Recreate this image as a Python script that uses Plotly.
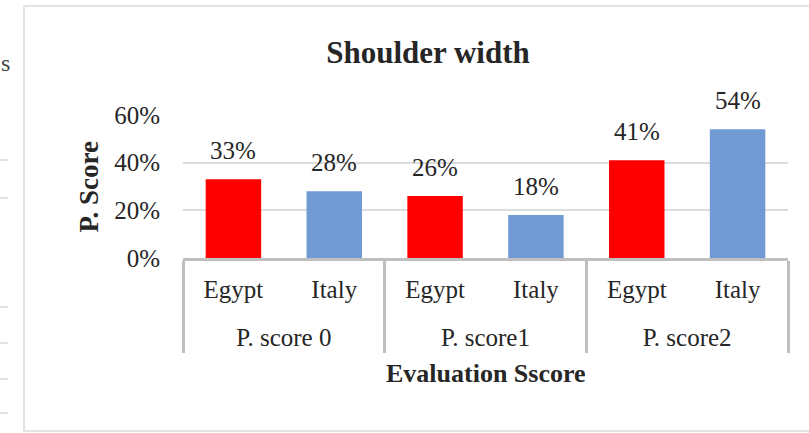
import plotly.graph_objects as go

groups = ["P. score 0", "P. score 0", "P. score1", "P. score1", "P. score2", "P. score2"]
countries = ["Egypt", "Italy", "Egypt", "Italy", "Egypt", "Italy"]
values = [0.33, 0.28, 0.26, 0.18, 0.41, 0.54]
labels = ["33%", "28%", "26%", "18%", "41%", "54%"]
bar_colors = ["#ff0000", "#7199d4", "#ff0000", "#7199d4", "#ff0000", "#7199d4"]
y_ticks = [0, 0.2, 0.4, 0.6]
y_ticktext = ["0%", "20%", "40%", "60%"]

SERIF = "Liberation Serif, Times New Roman, serif"
TXT = "#262626"
FS = 25

# a small blank second line under each country name leaves room for the group row
country_text = [c + "<br><sup><span style='font-size:40px'>\u00a0</span></sup>" for c in countries]

fig = go.Figure()
fig.add_trace(go.Bar(
    x=[groups, country_text], y=values,
    marker=dict(color=bar_colors, line=dict(width=0)),
    hoverinfo="skip",
))

for i, (v, t) in enumerate(zip(values, labels)):
    fig.add_annotation(x=i, y=v, xref="x", yref="y", text=t, showarrow=False,
                       yanchor="middle", yshift=29,
                       font=dict(family=SERIF, size=FS, color=TXT))

# axis titles
fig.add_annotation(x=-0.157, y=0.5, xref="paper", yref="paper", text="<b>P. Score</b>",
                   textangle=-90, showarrow=False, xanchor="center", yanchor="middle",
                   font=dict(family=SERIF, size=27, color=TXT))
fig.add_annotation(x=0.5, y=-0.81, xref="paper", yref="paper", text="<b>Evaluation Sscore</b>",
                   showarrow=False, xanchor="center", yanchor="middle",
                   font=dict(family=SERIF, size=26, color=TXT))

W, H = 809, 433
L, R, T, B = 183, 21, 115, 175
pw, ph = W - L - R, H - T - B

def px(x):
    return (x - L) / pw

def py(y):
    return (H - B - y) / ph

shapes = [dict(type="rect", xref="paper", yref="paper", x0=px(24), x1=px(812), y0=py(6), y1=py(431),
               line=dict(color="#e3e3e3", width=2), layer="below")]
for yy in [160, 198, 307, 343, 379, 413]:
    shapes.append(dict(type="line", xref="paper", yref="paper", x0=px(0), x1=px(8), y0=py(yy), y1=py(yy),
                       line=dict(color="#d8d8d8", width=1.5)))
fig.add_annotation(x=px(0), y=py(63), xref="paper", yref="paper", text="s", showarrow=False,
                   xanchor="left", yanchor="middle", borderpad=0,
                   font=dict(family=SERIF, size=24, color="#444"))

fig.update_layout(
    width=W, height=H,
    margin=dict(l=L, r=R, t=T, b=B, pad=0),
    paper_bgcolor="white", plot_bgcolor="white",
    showlegend=False,
    bargap=0.45,
    shapes=shapes,
    title=dict(text="<b>Shoulder width</b>", x=428 / W, xref="container", xanchor="center",
               y=1 - 52 / H, yref="container", yanchor="middle",
               font=dict(family=SERIF, size=31, color=TXT)),
    xaxis=dict(type="multicategory", showline=True, linecolor="#bfbfbf", linewidth=3,
               showdividers=True, dividercolor="#bfbfbf", dividerwidth=3,
               ticks="", ticklabelstandoff=7, tickfont=dict(family=SERIF, size=FS, color=TXT),
               showgrid=False, zeroline=False),
    yaxis=dict(range=[0, 0.6], tickvals=y_ticks, ticktext=y_ticktext,
               showgrid=True, gridcolor="#dcdcdc", gridwidth=1.5, zeroline=False,
               showline=False, ticks="", ticklabelstandoff=22,
               tickfont=dict(family=SERIF, size=FS, color=TXT)),
)

fig.write_html("out.html")
